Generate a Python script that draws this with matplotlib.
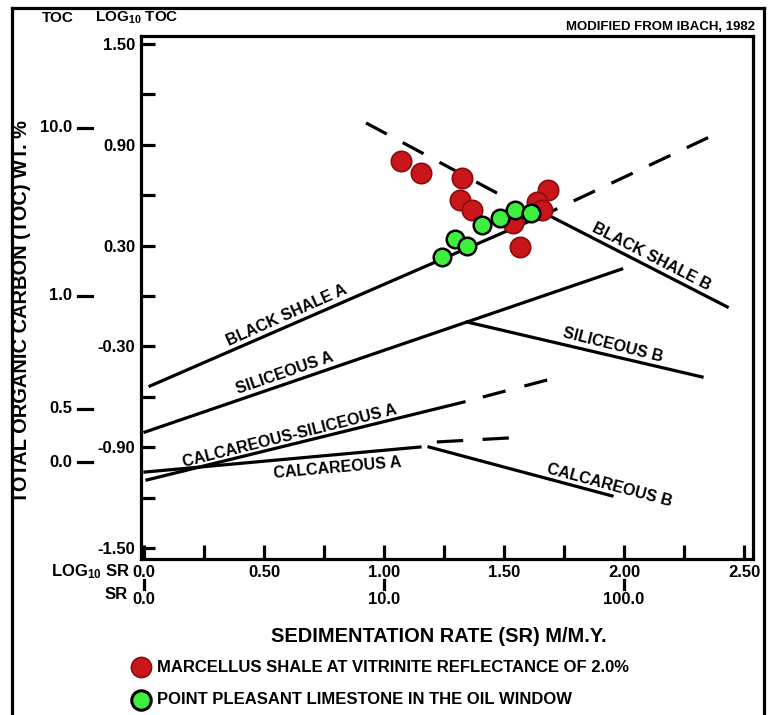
import matplotlib
matplotlib.use("Agg")
import matplotlib.pyplot as plt
from matplotlib.lines import Line2D
from matplotlib.transforms import blended_transform_factory

plt.rcParams['font.family'] = ['Liberation Sans', 'DejaVu Sans']
plt.rcParams['mathtext.fontset'] = 'custom'
plt.rcParams['mathtext.rm'] = 'Liberation Sans:bold'
plt.rcParams['mathtext.it'] = 'Liberation Sans:bold'
plt.rcParams['mathtext.bf'] = 'Liberation Sans:bold'
plt.rcParams['mathtext.default'] = 'rm'
plt.rcParams['lines.scale_dashes'] = False

# ---------------- data ----------------
log_sr_ticks = [0.0, 0.5, 1.0, 1.5, 2.0, 2.5]
log_sr_labels = ["0.0", "0.50", "1.00", "1.50", "2.00", "2.50"]
log_sr_minor = [0.25, 0.75, 1.25, 1.75, 2.25]
sr_ticks = [0.0, 1.0, 2.0]
sr_labels = ["0.0", "10.0", "100.0"]

log_toc_ticks = [1.5, 0.9, 0.3, -0.3, -0.9, -1.5]
log_toc_labels = ["1.50", "0.90", "0.30", "-0.30", "-0.90", "-1.50"]
log_toc_minor = [1.2, 0.6, 0.0, -0.6, -1.2]
toc_ticks = [1.0, 0.0, -0.67, -0.99]
toc_labels = ["10.0", "1.0", "0.5", "0.0"]

marcellus_log_sr = [1.070, 1.153, 1.324, 1.317, 1.365, 1.539, 1.567, 1.685, 1.636, 1.660]
marcellus_log_toc = [0.805, 0.730, 0.701, 0.571, 0.512, 0.433, 0.293, 0.631, 0.561, 0.512]

pleasant_log_sr = [1.240, 1.296, 1.345, 1.407, 1.483, 1.546, 1.611]
pleasant_log_toc = [0.230, 0.337, 0.298, 0.423, 0.462, 0.512, 0.496]

black_shale_a_x = [0.025, 1.675]
black_shale_a_y = [-0.536, 0.488]
black_shale_a_ext_x = [1.675, 2.40]
black_shale_a_ext_y = [0.488, 0.976]
black_shale_b_x = [1.675, 2.43]
black_shale_b_y = [0.488, -0.065]
black_shale_b_ext_x = [0.925, 1.50]
black_shale_b_ext_y = [1.03, 0.59]
siliceous_a_x = [0.004, 1.99]
siliceous_a_y = [-0.81, 0.16]
siliceous_b_x = [1.346, 2.325]
siliceous_b_y = [-0.155, -0.482]
calc_sil_a_x = [0.0125, 1.333]
calc_sil_a_y = [-1.095, -0.631]
calc_sil_a_ext_x = [1.333, 1.696]
calc_sil_a_ext_y = [-0.631, -0.494]
calcareous_a_x = [0.004, 1.15]
calcareous_a_y = [-1.048, -0.899]
calcareous_a_ext_x = [1.22, 1.52]
calcareous_a_ext_y = [-0.869, -0.845]
calcareous_b_x = [1.1875, 1.95]
calcareous_b_y = [-0.899, -1.19]

zone_labels = ["BLACK SHALE A", "SILICEOUS A", "CALCAREOUS-SILICEOUS A", "CALCAREOUS A",
               "BLACK SHALE B", "SILICEOUS B", "CALCAREOUS B"]
zone_label_x = [0.596, 0.5875, 0.608, 0.808, 2.1125, 1.954, 1.9375]
zone_label_y = [-0.113, -0.458, -0.835, -1.025, 0.232, -0.292, -1.125]
zone_label_rot = [24, 19, 14, 5, -27, -14, -15]

# ---------------- figure ----------------
fig = plt.figure(figsize=(7.68, 7.15), dpi=100)
ax = fig.add_axes([0.1836, 0.2182, 0.7969, 0.7315])
ax.set_xlim(-0.0125, 2.5375)
ax.set_ylim(-1.5655, 1.5476)

for s in ax.spines.values():
    s.set_linewidth(2.3)

ax.set_xticks(log_sr_ticks)
ax.set_xticklabels(log_sr_labels, fontweight='bold', fontsize=12)
ax.set_xticks(log_sr_minor, minor=True)
ax.set_yticks(log_toc_ticks)
ax.set_yticklabels(log_toc_labels, fontweight='bold', fontsize=12)
ax.set_yticks(log_toc_minor, minor=True)
ax.tick_params(which='both', direction='in', length=10, width=2.3, pad=4)

lw = 2.3
dash = (0, (17, 13))
ax.plot(black_shale_a_x, black_shale_a_y, color='black', lw=lw, zorder=2)
ax.plot(black_shale_a_ext_x, black_shale_a_ext_y, color='black', lw=lw, linestyle=(8, (17, 13)), zorder=2)
ax.plot(black_shale_b_x, black_shale_b_y, color='black', lw=lw, zorder=2)
ax.plot(black_shale_b_ext_x, black_shale_b_ext_y, color='black', lw=lw, linestyle=dash, zorder=2)
ax.plot(siliceous_a_x, siliceous_a_y, color='black', lw=lw, zorder=2)
ax.plot(siliceous_b_x, siliceous_b_y, color='black', lw=lw, zorder=2)
ax.plot(calc_sil_a_x, calc_sil_a_y, color='black', lw=lw, zorder=2)
ax.plot(calc_sil_a_ext_x, calc_sil_a_ext_y, color='black', lw=lw, linestyle=(-14, (17, 14)), zorder=2)
ax.plot(calcareous_a_x, calcareous_a_y, color='black', lw=lw, zorder=2)
ax.plot(calcareous_a_ext_x, calcareous_a_ext_y, color='black', lw=lw, linestyle=(0, (19, 14)), zorder=2)
ax.plot(calcareous_b_x, calcareous_b_y, color='black', lw=lw, zorder=2)

for lab, lx, ly, rot in zip(zone_labels, zone_label_x, zone_label_y, zone_label_rot):
    ax.text(lx, ly, lab, rotation=rot, rotation_mode='anchor', ha='center', va='center',
            fontsize=11.5, fontweight='bold', zorder=3)

ax.scatter(marcellus_log_sr, marcellus_log_toc, s=215, color='#c8161a',
           edgecolors='#8a0c0c', linewidths=1.2, zorder=4)
ax.scatter(pleasant_log_sr, pleasant_log_toc, s=160, color='#3ef03e',
           edgecolors='black', linewidths=1.8, zorder=5)

# secondary TOC scale on the left
ty = blended_transform_factory(ax.transAxes, ax.transData)
for v, lab in zip(toc_ticks, toc_labels):
    ax.text(-0.1127, v, lab, transform=ty, ha='right', va='center',
            fontsize=12, fontweight='bold')
    ax.add_line(Line2D([-0.1029, -0.0801], [v, v], transform=ty, color='black',
                       lw=2.3, clip_on=False))

# secondary SR scale below
tx = blended_transform_factory(ax.transData, ax.transAxes)
for v, lab in zip(sr_ticks, sr_labels):
    ax.add_line(Line2D([v, v], [-0.040, -0.057], transform=tx, color='black',
                       lw=2.3, clip_on=False))
    ax.text(v, -0.0784, lab, transform=tx, ha='center', va='center',
            fontsize=12, fontweight='bold')
ax.text(-0.018, -0.0249, r"LOG$_{10}$ SR", transform=ax.transAxes, ha='right', va='center',
        fontsize=12, fontweight='bold')
ax.text(-0.021, -0.0688, "SR", transform=ax.transAxes, ha='right', va='center',
        fontsize=12, fontweight='bold')

# headers
fig.text(0.0755, 0.9748, "TOC", ha='center', va='center', fontsize=11, fontweight='bold')
fig.text(0.1237, 0.9748, r"LOG$_{10}$ TOC", ha='left', va='center', fontsize=11, fontweight='bold')
fig.text(0.983, 0.9622, "MODIFIED FROM IBACH, 1982", ha='right', va='center',
         fontsize=9.5, fontweight='bold')

# axis titles
fig.text(0.0286, 0.5636, "TOTAL ORGANIC CARBON (TOC) WT. %", rotation=90,
         ha='center', va='center', fontsize=14.4, fontweight='bold')
fig.text(0.5716, 0.1091, "SEDIMENTATION RATE (SR) M/M.Y.", ha='center', va='center',
         fontsize=14.4, fontweight='bold')

# legend
fig.add_artist(Line2D([0.1836], [0.0671], marker='o', markersize=14.5, color='#c8161a',
                      markeredgecolor='#8a0c0c', markeredgewidth=1.2, linestyle='none'))
fig.add_artist(Line2D([0.1836], [0.0210], marker='o', markersize=14.0, color='#3ef03e',
                      markeredgecolor='black', markeredgewidth=2.2, linestyle='none'))
fig.text(0.2044, 0.0671, "MARCELLUS SHALE AT VITRINITE REFLECTANCE OF 2.0%", ha='left',
         va='center', fontsize=12, fontweight='bold')
fig.text(0.2044, 0.0210, "POINT PLEASANT LIMESTONE IN THE OIL WINDOW", ha='left',
         va='center', fontsize=12, fontweight='bold')

# outer frame
fl = 2.3
fig.add_artist(Line2D([0.0156, 0.0156], [-0.01, 0.9888], color='black', lw=fl))
fig.add_artist(Line2D([0.9948, 0.9948], [-0.01, 0.9888], color='black', lw=fl))
fig.add_artist(Line2D([0.0156, 0.9948], [0.9888, 0.9888], color='black', lw=fl))

fig.savefig("out.png", dpi=100)
